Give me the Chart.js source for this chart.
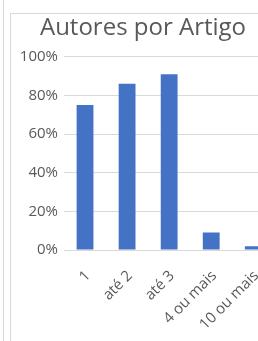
<!DOCTYPE html>
<html>
<head>
<meta charset="utf-8">
<script src="https://cdn.jsdelivr.net/npm/chart.js@4"></script>
<style>
  html, body { margin: 0; padding: 0; background: #fff; overflow: hidden; }
  .edge { position: absolute; left: 3px; top: 0; width: 1px; height: 341px; background: #d9d9d9; }
  .frame { position: absolute; left: 10px; top: 13px; width: 266px; height: 340px;
           border-left: 1px solid #d9d9d9; border-top: 1px solid #d9d9d9; }
  .frame canvas { position: absolute; left: 0; top: 0; }
</style>
</head>
<body>
<div class="edge"></div>
<div class="frame">
  <canvas id="chart" width="264" height="327"></canvas>
</div>
<script>
const categories = ["1", "até 2", "até 3", "4 ou mais", "10 ou mais"]
const shares = [75, 86, 91, 9, 2]
const tickValues = [0, 20, 40, 60, 80, 100]

const grey = "#595959"
const font = "'Open Sans', sans-serif"

const ctx = document.getElementById("chart").getContext("2d")

new Chart(ctx, {
  type: "bar",
  data: {
    labels: categories,
    datasets: [
      {
        data: shares,
        backgroundColor: "#4472C4",
        barPercentage: 0.4,
        categoryPercentage: 1
      }
    ]
  },
  options: {
    responsive: false,
    animation: false,
    layout: { padding: 0 },
    plugins: {
      legend: { display: false },
      tooltip: { enabled: false },
      title: {
        display: true,
        text: "Autores por Artigo",
        color: grey,
        font: { family: font, size: 24, weight: "normal", lineHeight: 1.2 },
        padding: { top: 0, bottom: 14 }
      }
    },
    scales: {
      x: {
        grid: { display: false },
        border: { display: false },
        ticks: {
          color: grey,
          font: { family: font, size: 15 },
          minRotation: 45,
          maxRotation: 45,
          labelOffset: 3,
          padding: 9
        },
        afterFit: (scale) => { scale.height = 91 }
      },
      y: {
        min: 0,
        max: 100,
        afterBuildTicks: (scale) => {
          scale.ticks = tickValues.map((v) => ({ value: v }))
        },
        grid: { color: "#d9d9d9", drawTicks: false },
        border: { display: false },
        ticks: {
          color: grey,
          font: { family: font, size: 15 },
          padding: 6,
          callback: (v) => v + "%"
        },
        afterFit: (scale) => { scale.width = 53 }
      }
    }
  }
})
</script>
</body>
</html>
